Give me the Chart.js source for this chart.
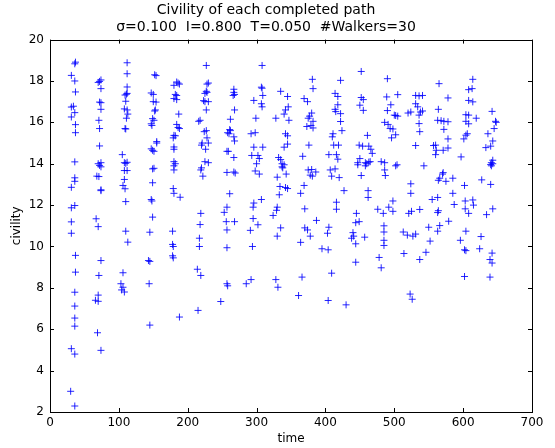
<!DOCTYPE html>
<html>
<head>
<meta charset="utf-8">
<script src="https://cdn.jsdelivr.net/npm/chart.js@4"></script>
<style>
  html, body { margin: 0; padding: 0; background: #fff; }
  #wrap { width: 555px; height: 448px; }
</style>
</head>
<body>
<div id="wrap"><canvas id="chart" width="555" height="448"></canvas></div>
<script>
// completed paths, grouped by the wave of completions they belong to: [time, civility]
const batch01 = [[37,18.91],[36,18.83],[31,18.27],[36,18.0],[37,17.47],[31,16.74],[34,16.78],[36,16.47],[31,16.26],[37,15.89],[37,15.5],[36,14.09],[36,13.32],[36,13.15],[31,12.86],[31,11.87],[36,11.98],[31,11.19],[31,10.64],[37,9.57],[37,8.76],[36,7.79],[36,7.12],[36,6.54],[36,6.15],[31,5.06],[36,4.8],[30,3.0],[36,2.29]];
const batch02 = [[72,17.98],[74,18.05],[70,17.93],[74,17.63],[72,16.98],[74,16.95],[74,16.63],[71,16.1],[72,15.7],[72,14.86],[70,14.0],[74,14.05],[72,13.92],[74,13.85],[68,13.4],[71,13.38],[74,12.74],[74,12.7],[67,11.34],[70,10.96],[74,9.32],[71,8.6],[70,7.65],[66,7.4],[70,7.35],[69,5.83],[74,4.98]];
const batch03 = [[112,18.88],[112,18.35],[112,17.71],[111,17.36],[112,17.4],[109,17.32],[110,17.02],[108,16.65],[112,16.6],[113,16.4],[111,16.2],[109,15.7],[110,15.68],[105,14.44],[108,14.05],[112,14.07],[110,14.02],[108,13.67],[112,13.67],[108,13.24],[106,12.95],[109,12.79],[110,12.17],[110,10.74],[113,10.21],[106,8.73],[103,8.2],[106,8.03],[104,7.9],[108,7.8]];
const batch04 = [[154,18.26],[152,18.3],[147,17.42],[150,17.35],[150,17.0],[154,16.98],[153,16.6],[152,16.55],[149,16.18],[151,16.1],[147,15.93],[148,15.85],[155,15.07],[155,15.0],[147,14.72],[149,14.65],[151,14.6],[149,13.75],[151,13.78],[149,13.08],[147,12.27],[148,12.2],[149,11.42],[145,10.69],[143,9.32],[145,9.28],[144,8.2],[145,6.2]];
const batch05 = [[186,17.9],[184,17.95],[188,17.85],[180,17.79],[184,17.3],[182,17.35],[184,17.1],[180,17.15],[187,16.4],[184,15.9],[186,15.75],[188,15.7],[182,15.35],[180,15.37],[179,15.25],[180,14.81],[180,14.7],[180,14.1],[182,14.0],[180,13.9],[180,13.7],[179,12.8],[180,12.57],[189,12.38],[178,10.74],[178,10.1],[179,10.0],[178,9.55],[179,9.45],[188,6.59]];
const batch06 = [[227,18.75],[230,17.9],[228,17.85],[227,17.5],[228,17.45],[225,17.4],[223,17.05],[225,17.0],[230,17.0],[227,16.6],[218,16.1],[216,16.05],[227,15.6],[224,15.55],[228,15.25],[230,15.0],[221,15.0],[220,14.9],[226,14.7],[225,14.1],[230,14.05],[220,13.8],[219,13.7],[222,13.4],[219,11.6],[218,11.06],[217,10.4],[217,10.0],[214,8.9],[219,8.6],[215,6.91]];
const batch07 = [[267,17.6],[267,17.45],[268,17.35],[266,17.3],[268,16.6],[262,16.15],[261,15.65],[262,15.6],[258,15.5],[260,15.45],[267,15.3],[268,15.1],[257,14.6],[259,14.6],[267,14.3],[267,13.6],[269,13.55],[257,13.58],[261,12.55],[257,11.9],[253,11.65],[256,11.2],[268,11.2],[257,10.8],[257,9.94],[257,8.2],[258,8.1],[248,7.34]];
const batch08 = [[308,18.75],[307,17.7],[308,17.65],[309,17.3],[296,17.06],[307,16.9],[308,16.75],[299,16.2],[298,15.5],[292,15.45],[296,14.8],[309,14.8],[293,14.4],[302,14.4],[304,14.25],[300,14.0],[298,13.65],[304,13.5],[307,12.27],[296,12.1],[295,11.9],[295,11.35],[302,11.05],[291,10.78],[294,10.0],[292,8.4],[285,8.2]];
const batch09 = [[335,17.5],[345,17.25],[346,16.75],[342,16.6],[340,16.4],[328,16.2],[347,16.1],[342,15.45],[345,15.35],[345,14.95],[340,14.8],[332,14.3],[335,14.2],[337,14.0],[340,13.95],[337,13.85],[338,13.8],[343,13.5],[330,13.35],[334,12.9],[345,12.8],[342,12.85],[333,12.5],[330,11.9],[329,11.75],[324,11.5],[335,10.9],[330,10.5],[328,8.4],[331,8.03]];
const batch10 = [[381,18.08],[382,17.63],[369,17.15],[374,17.0],[380,16.45],[377,16.3],[375,16.2],[382,16.05],[379,15.85],[373,15.8],[382,15.73],[376,14.9],[367,14.36],[375,13.7],[380,13.72],[386,13.6],[378,13.45],[381,13.4],[369,12.95],[364,12.57],[370,11.82],[387,11.26],[370,10.9],[374,10.8],[378,10.5],[364,10.2],[366,8.52],[361,7.63]];
const batch11 = [[422,18.03],[414,17.4],[418,17.25],[418,16.85],[414,16.63],[415,16.52],[422,16.42],[422,16.04],[411,15.45],[410,15.3],[424,15.6],[412,14.9],[419,14.9],[405,14.44],[416,14.44],[418,14.22],[407,13.7],[409,13.4],[414,13.75],[420,13.33],[427,12.7],[416,12.14],[416,11.8],[405,10.93],[403,10.64],[395,9.89],[404,9.84],[409,8.71],[404,7.39],[430,7.18]];
const batch12 = [[452,18.46],[452,17.2],[455,17.1],[450,16.83],[455,16.58],[461,15.37],[449,14.9],[454,14.85],[463,14.85],[466,14.7],[468,14.5],[450,14.25],[447,13.95],[460,14.0],[458,13.9],[447,14.05],[458,14.05],[463,14.08],[465,14.1],[452,13.43],[462,12.7],[462,12.37],[445,11.6],[449,11.2],[444,11.15],[440,10.67],[438,10.4],[441,10.5],[457,10.45],[444,10.13],[444,9.24]];
const batch13 = [[490,18.11],[505,17.34],[489,17.23],[495,16.85],[490,16.57],[502,16.33],[505,16.3],[500,16.35],[486,16.0],[491,15.9],[494,15.7],[498,15.68],[502,15.4],[496,15.25],[481,14.1],[504,13.95],[486,14.05],[486,13.7],[502,13.9],[487,13.43],[498,12.2],[492,11.9],[484,11.6],[498,11.7],[476,11.8],[485,11.0],[485,10.7],[485,10.3],[485,10.05],[478,9.47],[481,8.97]];
const batch14 = [[531,17.3],[536,17.28],[541,17.3],[531,16.9],[534,16.75],[538,16.5],[541,16.55],[536,16.35],[520,16.45],[524,16.5],[536,15.94],[537,15.55],[531,14.88],[543,13.9],[524,13.03],[524,12.57],[521,11.6],[525,11.7],[537,11.79],[513,10.7],[519,10.55],[527,10.5],[531,10.6],[514,9.66],[537,9.37],[523,7.7],[526,7.45]];
const batch15 = [[565,17.87],[578,17.18],[564,16.63],[563,16.1],[568,16.08],[572,16.05],[578,16.03],[572,15.66],[578,15.2],[557,14.88],[560,14.9],[561,14.65],[560,14.44],[571,14.65],[578,14.76],[571,13.57],[570,13.5],[566,13.3],[564,13.2],[575,13.15],[585,13.3],[555,12.27],[563,12.37],[585,12.57],[587,12.03],[564,11.73],[563,11.64],[579,11.22],[550,10.93],[566,11.01],[563,10.74],[552,10.26],[546,9.72]];
const batch16 = [[614,18.08],[608,17.58],[613,17.63],[608,17.06],[614,16.99],[604,16.37],[608,16.35],[619,16.2],[604,16.05],[608,15.93],[606,15.45],[604,15.38],[601,15.2],[597,14.33],[627,13.22],[602,12.95],[603,12.2],[614,12.25],[615,12.0],[603,11.82],[608,11.6],[604,10.74],[626,10.48],[596,10.3],[602,9.84],[604,9.8],[624,9.89],[602,8.55]];
const batch17 = [[642,16.53],[648,16.0],[647,16.05],[645,15.7],[636,15.45],[643,15.1],[640,14.85],[633,14.78],[643,14.17],[641,14.05],[640,13.96],[643,14.0],[641,13.9],[640,13.0],[643,11.82],[634,11.54],[642,9.68],[639,9.37],[642,9.2],[639,8.52]];

const batches = [batch01, batch02, batch03, batch04, batch05, batch06, batch07, batch08, batch09,
  batch10, batch11, batch12, batch13, batch14, batch15, batch16, batch17];

const xTicks = [0, 100, 200, 300, 400, 500, 600, 700];
const yTicks = [2, 4, 6, 8, 10, 12, 14, 16, 18, 20];

const titleLines = ['Civility of each completed path', 'σ=0.100  I=0.800  T=0.050  #Walkers=30'];

const points = [];
batches.forEach(b => b.forEach(p => points.push({ x: p[0], y: p[1] })));

// frame and inward ticks on all four sides (matplotlib classic look)
const framePlugin = {
  id: 'frame',
  afterDatasetsDraw(chart) {
    const { ctx, chartArea: a, scales } = chart;
    ctx.save();
    ctx.strokeStyle = '#000';
    ctx.lineWidth = 1;
    xTicks.forEach(v => {
      const px = Math.round(scales.x.getPixelForValue(v)) + 0.5;
      ctx.beginPath();
      ctx.moveTo(px, a.bottom); ctx.lineTo(px, a.bottom - 4);
      ctx.moveTo(px, a.top); ctx.lineTo(px, a.top + 4);
      ctx.stroke();
    });
    yTicks.forEach(v => {
      const py = Math.round(scales.y.getPixelForValue(v)) + 0.5;
      ctx.beginPath();
      ctx.moveTo(a.left, py); ctx.lineTo(a.left + 4, py);
      ctx.moveTo(a.right, py); ctx.lineTo(a.right - 4, py);
      ctx.stroke();
    });
    ctx.strokeRect(Math.round(a.left) + 0.5, Math.round(a.top) + 0.5,
      Math.round(a.right - a.left), Math.round(a.bottom - a.top));
    ctx.restore();
  }
};

Chart.defaults.font.family = '"DejaVu Sans", sans-serif';
Chart.defaults.color = '#000';

new Chart(document.getElementById('chart'), {
  type: 'scatter',
  data: {
    datasets: [{
      data: points,
      pointStyle: 'cross',
      radius: 3.5,
      borderWidth: 1,
      borderColor: 'rgba(0, 0, 255, 0.85)',
      backgroundColor: 'rgba(0, 0, 255, 0.85)'
    }]
  },
  options: {
    responsive: false,
    animation: false,
    layout: { padding: { left: 0, right: 23, top: 0, bottom: 0 } },
    plugins: {
      legend: { display: false },
      tooltip: { enabled: false },
      title: {
        display: true,
        text: titleLines,
        font: { size: 14, weight: 'normal', lineHeight: 1.2 },
        padding: { top: 2, bottom: 4 }
      }
    },
    scales: {
      x: {
        type: 'linear',
        min: 0, max: 700,
        afterFit: s => { s.height = 36; },
        afterBuildTicks: s => { s.ticks = xTicks.map(v => ({ value: v })); },
        grid: { display: false, drawTicks: false },
        border: { display: false },
        ticks: { font: { size: 12 }, padding: 4, maxRotation: 0 },
        title: { display: true, text: 'time', font: { size: 12 }, padding: { top: 0, bottom: 2 } }
      },
      y: {
        type: 'linear',
        min: 2, max: 20,
        afterFit: s => { s.width = 50; },
        afterBuildTicks: s => { s.ticks = yTicks.map(v => ({ value: v })); },
        grid: { display: false, drawTicks: false },
        border: { display: false },
        ticks: { font: { size: 12 }, padding: 6 },
        title: { display: true, text: 'civility', font: { size: 12 }, padding: { top: 10, bottom: 0 } }
      }
    }
  },
  plugins: [framePlugin]
});
</script>
</body>
</html>
